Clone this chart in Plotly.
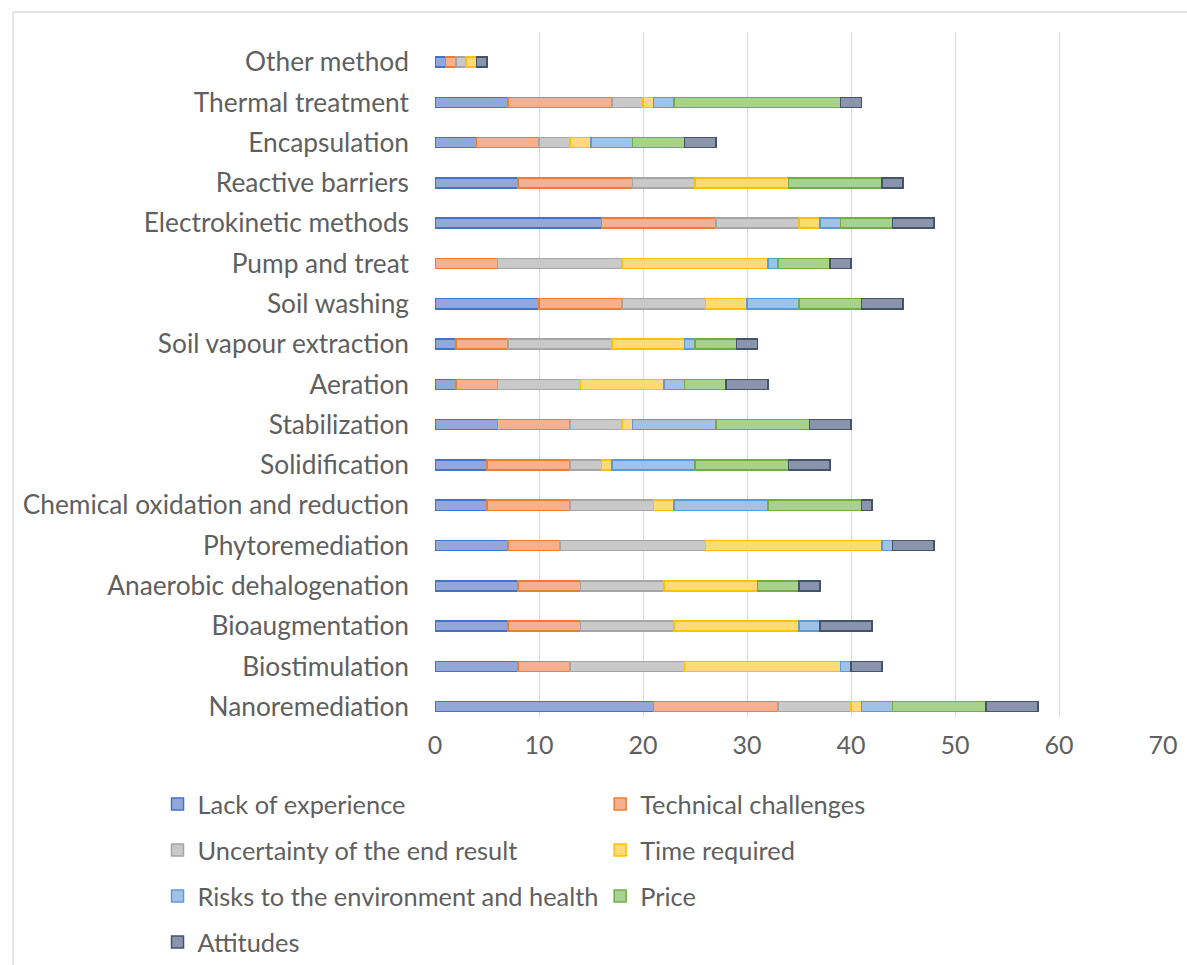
import plotly.graph_objects as go

categories = ["Nanoremediation", "Biostimulation", "Bioaugmentation", "Anaerobic dehalogenation",
              "Phytoremediation", "Chemical oxidation and reduction", "Solidification", "Stabilization",
              "Aeration", "Soil vapour extraction", "Soil washing", "Pump and treat",
              "Electrokinetic methods", "Reactive barriers", "Encapsulation", "Thermal treatment",
              "Other method"]

lack_of_experience = [21, 8, 7, 8, 7, 5, 5, 6, 2, 2, 10, 0, 16, 8, 4, 7, 1]
technical_challenges = [12, 5, 7, 6, 5, 8, 8, 7, 4, 5, 8, 6, 11, 11, 6, 10, 1]
uncertainty = [7, 11, 9, 8, 14, 8, 3, 5, 8, 10, 8, 12, 8, 6, 3, 3, 1]
time_required = [1, 15, 12, 9, 17, 2, 1, 1, 8, 7, 4, 14, 2, 9, 2, 1, 1]
risks = [3, 1, 2, 0, 1, 9, 8, 8, 2, 1, 5, 1, 2, 0, 4, 2, 0]
price = [9, 0, 0, 4, 0, 9, 9, 9, 4, 4, 6, 5, 5, 9, 5, 16, 0]
attitudes = [5, 3, 5, 2, 4, 1, 4, 4, 4, 2, 4, 2, 4, 2, 3, 2, 1]

series = [
    ("Lack of experience", lack_of_experience, "#92A8DA", "#4472C4", "legend"),
    ("Technical challenges", technical_challenges, "#F4B08F", "#ED7D31", "legend2"),
    ("Uncertainty of the end result", uncertainty, "#C9C9C9", "#A5A5A5", "legend"),
    ("Time required", time_required, "#FFD97A", "#FFC000", "legend2"),
    ("Risks to the environment and health", risks, "#A0C2E7", "#5B9BD5", "legend"),
    ("Price", price, "#A9D18E", "#70AD47", "legend2"),
    ("Attitudes", attitudes, "#8A95AD", "#44546A", "legend"),
]

FONT = "Lato"
TXT = "#5f5f5f"

fig = go.Figure()
for i, (name, vals, fill, line, lg) in enumerate(series):
    fig.add_trace(go.Bar(
        y=categories, x=vals, name=name, orientation="h",
        marker=dict(color=fill, line=dict(color=line, width=1.5)),
        width=0.25, legend=lg, legendgroup=name,
    ))

L, R, T, B = 434.7, 1163.3, 32, 717
W, H = 1187, 965
pw, ph = R - L, B - T

def px_x(px):
    return (px - L) / pw

def px_y(py):
    return (B - py) / ph

fig.update_layout(
    width=W, height=H,
    margin=dict(l=L, r=W - R, t=T, b=H - B, pad=0, autoexpand=False),
    barmode="stack",
    plot_bgcolor="white", paper_bgcolor="white",
    font=dict(family=FONT, size=25, color=TXT),
    xaxis=dict(range=[0, 70], dtick=10, showgrid=True, gridcolor="#D9D9D9", gridwidth=1.3,
               zeroline=False, showline=False, ticks="", tickfont=dict(size=25, color=TXT),
               ticklabelstandoff=11, fixedrange=True),
    yaxis=dict(type="category", range=[-0.256, 16.745], showgrid=False, zeroline=False,
               showline=False, ticks="", ticklabelstandoff=25,
               tickfont=dict(size=26.3, color=TXT), fixedrange=True),
    legend=dict(x=px_x(157), y=px_y(781), xanchor="left", yanchor="top",
                orientation="v", traceorder="grouped", tracegroupgap=10,
                font=dict(size=25.4, color=TXT), bgcolor="rgba(0,0,0,0)"),
    legend2=dict(x=px_x(600), y=px_y(781), xanchor="left", yanchor="top",
                 orientation="v", traceorder="grouped", tracegroupgap=10,
                 font=dict(size=25.4, color=TXT), bgcolor="rgba(0,0,0,0)"),
    shapes=[
        dict(type="line", xref="paper", yref="paper", x0=px_x(12.5), x1=px_x(1200),
             y0=px_y(12), y1=px_y(12), line=dict(color="#D9D9D9", width=1.3)),
        dict(type="line", xref="paper", yref="paper", x0=px_x(12.5), x1=px_x(12.5),
             y0=px_y(12), y1=px_y(980), line=dict(color="#D9D9D9", width=1.3)),
    ],
)

fig.write_html("out.html")
